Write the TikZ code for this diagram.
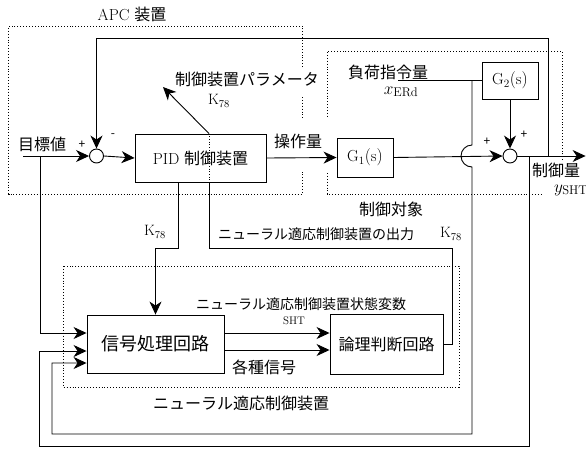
\documentclass[tikz,border=0pt]{standalone}
\usepackage{fontspec}
\newfontfamily\jp{Noto Sans CJK JP}
\usetikzlibrary{arrows.meta}
\begin{document}
\begin{tikzpicture}[x=1pt,y=-1pt,line width=0.9pt,
  arr/.style={-{Stealth[length=13pt,width=12pt,inset=4pt]}},
  blk/.style={draw,inner sep=0pt,fill=white},
  sumj/.style={draw,circle,minimum size=14pt,inner sep=0pt,fill=white},
  jt/.style={font=\fontsize{16pt}{19pt}\selectfont\jp,inner sep=0pt},
  jts/.style={font=\fontsize{14pt}{17pt}\selectfont\jp,inner sep=0pt},
  jtb/.style={font=\fontsize{18pt}{21pt}\selectfont\jp,inner sep=0pt},
  lt/.style={font=\fontsize{16pt}{19pt}\selectfont,inner sep=0pt},
  vt/.style={font=\fontsize{18pt}{20pt}\selectfont,inner sep=0pt},
  kt/.style={font=\fontsize{15pt}{17pt}\selectfont,inner sep=0pt},
  st/.style={font=\fontsize{11pt}{13pt}\selectfont,inner sep=0pt},
  sg/.style={font=\fontsize{12pt}{13pt}\selectfont\jp,inner sep=0pt},
  dot/.style={dotted,line width=0.9pt}]
\useasboundingbox (0,0) rectangle (586,448);

% dotted frames
\draw[dot] (302,67) -- (302,26) -- (8.5,26) -- (8.5,194) -- (302,194) -- (302,172);
\draw[dot] (302,97) -- (302,118);
\draw[dot] (562,163) -- (562,51) -- (327,51) -- (327,118);
\draw[dot] (327,173) -- (327,194) -- (541,194);
\draw[dot] (63,266) rectangle (459,387);

% blocks
\node[blk,lt,minimum width=131pt,minimum height=48pt] (pid) at (200.5,158) {PID {\jp 制御装置}};
\node[blk,lt,minimum width=56pt,minimum height=39pt] (g1) at (365,157.5) {$\mathrm{G_1(s)}$};
\node[blk,lt,minimum width=56pt,minimum height=37pt] (g2) at (510,80.5) {$\mathrm{G_2(s)}$};
\node[blk,jtb,minimum width=137pt,minimum height=58pt] (sig) at (155.5,344) {信号処理回路};
\node[blk,jt,minimum width=113pt,minimum height=60pt] (logic) at (386.5,344) {論理判断回路};
\node[sumj] (s1) at (96.5,156) {};
\node[sumj] (s2) at (510,156) {};

% coordinates
\coordinate (in) at (23,156);
\coordinate (b1) at (40,156);
\coordinate (fb) at (548,156);
\coordinate (out) at (585.6,156);
\coordinate (ob) at (529,156);
\coordinate (xin) at (398,80.5);
\coordinate (xb) at (472,80.5);
\coordinate (par) at (163,87);

% main loop
\draw[arr] (in) -- (s1.west);
\draw[arr] (s1.east) -- (pid.west);
\draw[arr] (pid.east) -- (g1.west);
\draw[arr] (g1.east) -- (s2.west);
\draw[arr] (g2.south) -- (s2.north);
\draw[arr] (s2.east) -- (out);
\draw[arr] (fb) -- (548,38) -- (96.5,38) -- (s1.north);
\draw (xin) -- (g2.west);

% disturbance branch with hop
\draw[arr] (xb) -- (472,145) arc[start angle=90,end angle=270,radius=11pt] -- (472,434) -- (52,434) -- (52,363) -- ([yshift=-19pt]sig.west);
% output branch
\draw[arr] (ob) -- (529,446.5) -- (39,446.5) -- (39,351) -- ([yshift=-7pt]sig.west);
% reference branch
\draw[arr] (b1) -- (40,333) -- ([yshift=11pt]sig.west);

% PID outputs
\draw[dot,line width=0.7pt] ([xshift=8.5pt]pid.north) -- ([xshift=8.5pt]pid.south);
\draw[arr] ([xshift=8.5pt]pid.north) -- (par);
\draw[arr] ([xshift=-22.5pt]pid.south) -- (178,248) -- (155.5,248) -- (sig.north);
\draw ([xshift=8.5pt]pid.south) -- (209,248) -- (452,248) -- (452,344) -- (logic.east);

% signal to logic
\draw[arr] ([yshift=11pt]sig.east) -- ([yshift=11pt]logic.west);
\draw[arr] ([yshift=-6pt]sig.east) -- ([yshift=-6pt]logic.west);

% labels
\node[lt] (apc) at (132,14) {APC {\jp 装置}};
\node[jt] (tgt) at (42,144) {目標値};
\node[sg] (p1) at (82,145) {+};
\node[sg] (m1) at (113,136) {-};
\node[jt] (parl) at (247,79) {制御装置パラメータ};
\node[kt] (k1) at (219,101) {$\mathrm{K_{78}}$};
\node[jt] (mv) at (298,141) {操作量};
\node[jt] (load) at (388,72) {負荷指令量};
\node[vt] (xerd) at (401,92) {$x_{\mathrm{ERd}}$};
\node[sg] (p2) at (487,142) {+};
\node[sg] (p3) at (524,135) {+};
\node[jt,fill=white,inner sep=1pt] (cv) at (556,170) {制御量};
\node[vt] (ysht) at (571,190) {$y_{\mathrm{SHT}}$};
\node[jt] (plant) at (391,209) {制御対象};
\node[kt] (k2) at (155,232) {$\mathrm{K_{78}}$};
\node[jts] (nout) at (316,234) {ニューラル適応制御装置の出力};
\node[kt] (k3) at (451,234) {$\mathrm{K_{78}}$};
\node[jts] (nstate) at (301,304) {ニューラル適応制御装置状態変数};
\node[st] (sht) at (294,321) {SHT};
\node[jt] (misc) at (264,367) {各種信号};
\node[jt] (nac) at (241,403) {ニューラル適応制御装置};
\end{tikzpicture}
\end{document}
